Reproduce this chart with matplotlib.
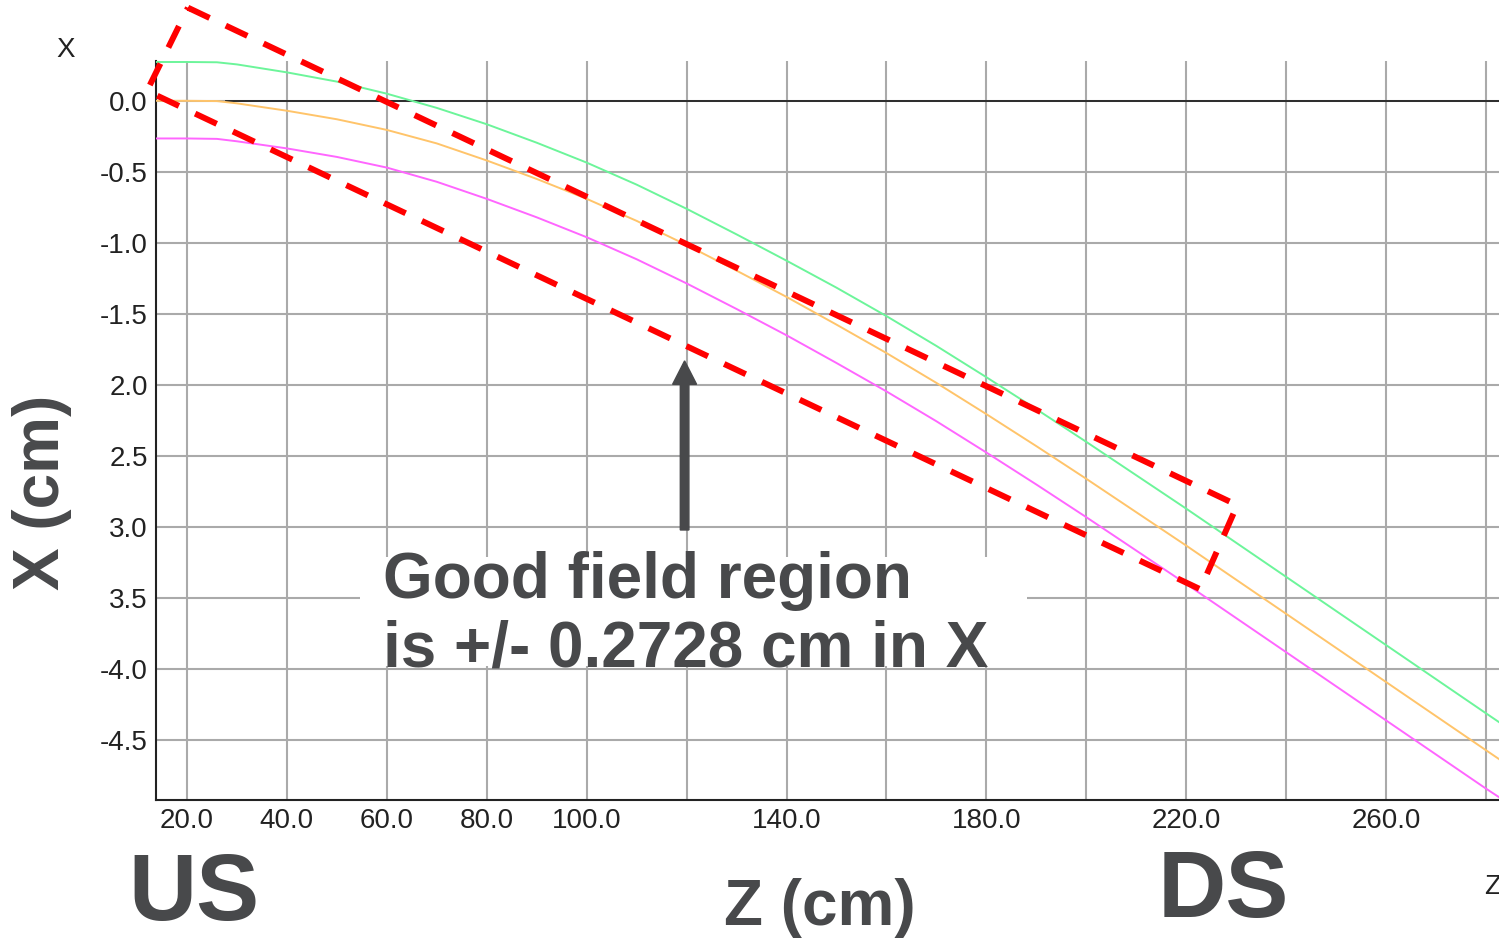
import matplotlib
matplotlib.use("Agg")
import matplotlib.pyplot as plt
from matplotlib.patches import Rectangle

plt.rcParams['font.family'] = ['Liberation Sans', 'DejaVu Sans']

# z positions (cm) and beam x offsets (cm)
z = [13.8, 20, 26, 30, 40, 50, 60, 70, 80, 90, 100, 110, 120, 130, 140,
     150, 160, 170, 180, 190, 200, 210, 220, 230, 240, 250, 260, 270, 280,
     282.6]
x_plus = [0.273, 0.273, 0.271, 0.256, 0.20, 0.135, 0.05, -0.05, -0.165,
          -0.295, -0.435, -0.59, -0.76, -0.94, -1.125, -1.315, -1.515,
          -1.725, -1.945, -2.17, -2.40, -2.635, -2.87, -3.11, -3.35, -3.59,
          -3.83, -4.07, -4.31, -4.372]
x_mid = [0.0, 0.0, -0.002, -0.018, -0.07, -0.13, -0.205, -0.30, -0.42,
         -0.55, -0.69, -0.845, -1.015, -1.195, -1.38, -1.575, -1.775,
         -1.985, -2.205, -2.43, -2.66, -2.895, -3.13, -3.37, -3.61, -3.85,
         -4.09, -4.33, -4.57, -4.632]
x_minus = [-0.265, -0.265, -0.268, -0.285, -0.335, -0.395, -0.47, -0.57,
           -0.69, -0.82, -0.96, -1.115, -1.285, -1.465, -1.65, -1.845,
           -2.045, -2.255, -2.475, -2.70, -2.93, -3.165, -3.40, -3.64, -3.88,
           -4.12, -4.36, -4.60, -4.84, -4.90]

xticks = [20, 40, 60, 80, 100, 120, 140, 160, 180, 200, 220, 240, 260, 280]
xlabels = ["20.0", "40.0", "60.0", "80.0", "100.0", "", "140.0", "",
           "180.0", "", "220.0", "", "260.0", ""]
yticks = [0.0, -0.5, -1.0, -1.5, -2.0, -2.5, -3.0, -3.5, -4.0, -4.5]
ylabels = ["0.0", "-0.5", "-1.0", "-1.5", "2.0", "2.5", "3.0", "3.5",
           "-4.0", "-4.5"]

# good field region box (annotation), corners in data coords
box_z = [20.2, 230.2, 222.8, 12.0, 20.2]
box_x = [0.655, -2.845, -3.437, 0.070, 0.655]

dark = '#48494b'

fig = plt.figure(figsize=(14.99, 9.40), dpi=100)
ax = fig.add_axes([156/1499, 140/940, 1343/1499, 739/940])

ax.set_xlim(13.8, 282.6)
ax.set_ylim(-4.92, 0.28)

ax.set_xticks(xticks)
ax.set_xticklabels(xlabels)
ax.set_yticks(yticks)
ax.set_yticklabels(ylabels)
ax.tick_params(length=0, labelsize=20, colors='#222222')
ax.tick_params(axis='x', pad=6)
ax.tick_params(axis='y', pad=6)
ax.grid(True, color='#aaaaaa', lw=1.5)
ax.set_axisbelow(True)
for s in ['top', 'right']:
    ax.spines[s].set_visible(False)
for s in ['left', 'bottom']:
    ax.spines[s].set_linewidth(1.5)
    ax.spines[s].set_color('#222222')

# zero line
ax.plot([27.8, 282.6], [0, 0], color='#222222', lw=1.3, zorder=2)

ax.plot(z, x_plus, color='#6cf59a', lw=1.4, zorder=3)
ax.plot(z, x_mid, color='#ffc46a', lw=1.4, zorder=3)
ax.plot(z, x_minus, color='#ff66ff', lw=1.4, zorder=3)

ax.plot(box_z, box_x, color='red', lw=4.3, dashes=(4, 3), clip_on=False,
        zorder=5)

ax.arrow(119.6, -3.02, 0, 1.19, width=1.72, head_width=4.8, head_length=0.165,
         length_includes_head=True, color=dark, zorder=4)

# white panel behind the note
ax.add_patch(Rectangle((360/1499, 1 - 666/940), 667/1499, 109/940,
                       transform=fig.transFigure, facecolor='white',
                       edgecolor='none', zorder=2.5))
fig.text(383/1499, 1 - 598/940, "Good field region", fontsize=46,
         fontweight='bold', color=dark, va='baseline', ha='left')
fig.text(383/1499, 1 - 666/940, "is +/- 0.2728 cm in X", fontsize=46,
         fontweight='bold', color=dark, va='baseline', ha='left')

fig.text(42/1499, 1 - 492/940, "X (cm)", fontsize=46, fontweight='bold',
         color=dark, rotation=90, ha='center', va='center')
fig.text(820/1499, 1 - 925/940, "Z (cm)", fontsize=46, fontweight='bold',
         color=dark, ha='center', va='baseline')
fig.text(128/1499, 1 - 920/940, "US", fontsize=68, fontweight='bold',
         color=dark, ha='left', va='baseline')
fig.text(1158/1499, 1 - 917/940, "DS", fontsize=68, fontweight='bold',
         color=dark, ha='left', va='baseline')

fig.text(66/1499, 1 - 50/940, "X", fontsize=20, color='#222222',
         ha='center', va='center')
fig.text(1484/1499, 1 - 887/940, "Z", fontsize=20, color='#222222',
         ha='left', va='center')

fig.savefig("out.png", dpi=100)
